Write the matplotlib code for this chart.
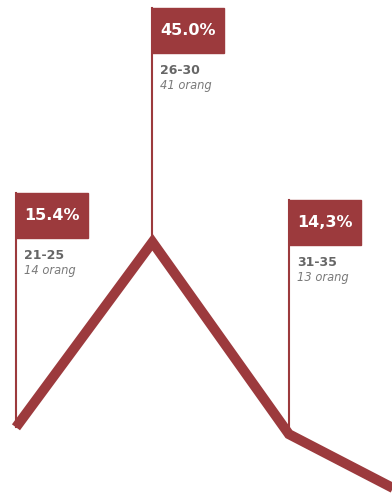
import matplotlib.pyplot as plt
from matplotlib.patches import Rectangle
from matplotlib.transforms import Affine2D, ScaledTranslation

# data
ages = ["21-25", "26-30", "31-35", "36-40"]
pct = [15.4, 45.0, 14.3, 3.0]
pct_labels = ["15.4%", "45.0%", "14,3%"]
counts = ["14 orang", "41 orang", "13 orang"]

red = "#9c3a3d"
grey = "#666666"
plt.rcParams['font.family'] = ["DejaVu Sans"]

fig = plt.figure(figsize=(3.92, 4.93), dpi=100)
ax = fig.add_axes([0, 0, 1, 1])
xs = list(range(len(pct)))
ax.plot(xs, pct, color=red, linewidth=7.2, solid_joinstyle='miter',
        solid_capstyle='butt', zorder=3)
ax.set_xlim(-0.117, 2.755)
ax.set_ylim(4.9, 83.7)
ax.axis('off')

# callouts (sizes in pixels, placed relative to each point)
for i in range(len(pct_labels)):
    tr = Affine2D() + ScaledTranslation(xs[i], pct[i], ax.transData)
    ax.plot([0, 0], [0, 234], color=red, linewidth=1.5, transform=tr, zorder=2)
    ax.add_patch(Rectangle((0, 189), 72, 45, color=red, transform=tr, zorder=4))
    ax.text(8, 211.5, pct_labels[i], color="white", fontsize=11.5, fontweight="bold",
            ha="left", va="center", transform=tr, zorder=5)
    ax.text(8, 172, ages[i], color=grey, fontsize=9, fontweight="bold",
            ha="left", va="center", transform=tr)
    ax.text(8, 157, counts[i], color="#7a7a7a", fontsize=8.3, style="italic",
            ha="left", va="center", transform=tr)

fig.savefig("out.png", dpi=100)
